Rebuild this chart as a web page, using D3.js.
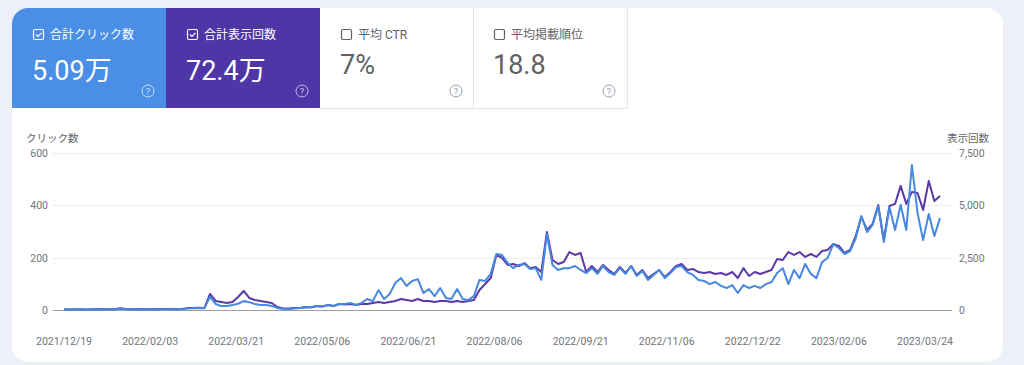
<!DOCTYPE html>
<html lang="ja">
  <head>
    <meta charset="UTF-8" />
    <title>Search Console</title>
    <script src="https://cdn.jsdelivr.net/npm/d3@7"></script>
    <style>
      body { margin: 0; background: #eef0f9; }
      text { font-family: Roboto, "Noto Sans CJK JP", sans-serif; }
    </style>
  </head>
  <body>
    <svg id="svg" width="1024" height="365"></svg>
    <script>
      // 3日ごとの値（2021/12/19 から）
      const startDate = "2021-12-19";
      const stepDays = 3;
      const clicks = [
        2, 1, 2, 2, 1, 2, 3, 2, 2, 3,
        5, 3, 2, 3, 2, 2, 3, 2, 3, 3,
        2, 3, 6, 7, 8, 7, 50, 23, 15, 15,
        19, 24, 34, 30, 23, 19, 19, 15, 8, 4,
        4, 6, 8, 10, 11, 15, 13, 19, 15, 23,
        23, 27, 19, 27, 42, 34, 76, 42, 61, 103,
        122, 92, 111, 118, 65, 80, 53, 84, 46, 42,
        80, 42, 38, 53, 115, 111, 138, 214, 210, 180,
        160, 172, 176, 157, 160, 115, 290, 172, 153, 160,
        160, 168, 153, 141, 160, 138, 168, 145, 134, 160,
        138, 168, 130, 149, 115, 134, 153, 122, 141, 164,
        168, 145, 134, 115, 111, 99, 107, 92, 84, 95,
        65, 95, 84, 92, 84, 99, 107, 141, 160, 99,
        153, 122, 176, 138, 122, 183, 199, 252, 237, 214,
        225, 275, 359, 298, 325, 397, 260, 393, 306, 401,
        306, 554, 371, 267, 367, 283, 351
      ];
      const impressions = [
        30, 25, 35, 30, 25, 40, 45, 35, 30, 40,
        90, 50, 40, 45, 40, 35, 45, 40, 50, 45,
        40, 50, 90, 100, 110, 95, 765, 430, 380, 335,
        380, 620, 910, 575, 480, 430, 380, 335, 145, 70,
        70, 95, 95, 145, 120, 190, 170, 240, 190, 285,
        265, 285, 240, 285, 285, 335, 380, 335, 380, 430,
        525, 480, 430, 525, 430, 430, 380, 430, 430, 380,
        430, 380, 430, 480, 955, 1240, 1530, 2630, 2485, 2150,
        2200, 2100, 2245, 2000, 2055, 1815, 3730, 2390, 2200, 2295,
        2770, 2630, 2725, 1815, 2100, 1815, 2150, 1910, 1720, 2055,
        1770, 2100, 1675, 1910, 1530, 1720, 1910, 1575, 1815, 2100,
        2200, 1910, 1960, 1815, 1770, 1815, 1720, 1770, 1675, 1815,
        1530, 2000, 1625, 1815, 1720, 1815, 1910, 2440, 2390, 2770,
        2630, 2770, 2535, 2675, 2535, 2820, 2870, 3155, 3060, 2725,
        2870, 3540, 4445, 3825, 4110, 5020, 3345, 4970, 5070, 5930,
        5070, 5640, 5590, 4780, 6165, 5210, 5450
      ];
      const xTickLabels = [
        "2021/12/19", "2022/02/03", "2022/03/21", "2022/05/06",
        "2022/06/21", "2022/08/06", "2022/09/21", "2022/11/06",
        "2022/12/22", "2023/02/06", "2023/03/24"
      ];
      const leftTicks = [0, 200, 400, 600];
      const rightTicks = [0, 2500, 5000, 7500];

      const cardTitles = ["合計クリック数", "合計表示回数", "平均 CTR", "平均掲載順位"];
      const cardValues = ["5.09万", "72.4万", "7%", "18.8"];
      const cardChecked = [true, true, false, false];

      const parse = d3.timeParse("%Y-%m-%d");
      const parseTick = d3.timeParse("%Y/%m/%d");
      const fmtTick = d3.timeFormat("%Y/%m/%d");
      const t0 = parse(startDate);
      const dates = clicks.map((_, i) => d3.timeDay.offset(t0, i * stepDays));

      const svg = d3.select("#svg");

      // 背景カード
      svg.append("rect")
        .attr("x", 12).attr("y", 8)
        .attr("width", 991).attr("height", 354)
        .attr("rx", 16)
        .attr("fill", "#fff");

      // 上のタイル
      const tileX = [12, 166, 320, 473];
      const tileW = 154;
      const tileFill = ["#4a8ee6", "#4f36a7", "#fff", "#fff"];
      const tiles = svg.append("g");

      tiles.append("path")
        .attr("d", `M 12 108 L 12 24 A 16 16 0 0 1 28 8 L 166 8 L 166 108 Z`)
        .attr("fill", tileFill[0]);
      tiles.append("rect")
        .attr("x", tileX[1]).attr("y", 8)
        .attr("width", tileW).attr("height", 100)
        .attr("fill", tileFill[1]);
      tiles.append("path")
        .attr("d", "M 320 108.5 L 627.5 108.5 L 627.5 8 M 473.5 8 L 473.5 108")
        .attr("stroke", "#e3e4e8")
        .attr("fill", "none");

      cardTitles.forEach((title, i) => {
        const x0 = tileX[i] + 21;
        const on = cardChecked[i];
        const fg = on ? "#fff" : "#5f6368";
        const g = tiles.append("g");
        g.append("rect")
          .attr("x", x0 + 0.5).attr("y", 29.5)
          .attr("width", 10).attr("height", 10)
          .attr("rx", 1.5)
          .attr("fill", "none")
          .attr("stroke", fg)
          .attr("stroke-width", 1.2);
        if (on) {
          g.append("path")
            .attr("d", `M ${x0 + 3} ${34.5} L ${x0 + 5} ${36.5} L ${x0 + 8.5} ${32.8}`)
            .attr("fill", "none")
            .attr("stroke", fg)
            .attr("stroke-width", 1.2);
        }
        g.append("text")
          .attr("x", x0 + 17).attr("y", 39)
          .attr("font-size", 12)
          .attr("fill", fg)
          .text(title);
        g.append("text")
          .attr("x", x0 - 1).attr("y", on ? 80 : 74)
          .attr("font-size", 27)
          .attr("fill", on ? "#fff" : "#616161")
          .text(cardValues[i]);
        const hx = tileX[i] + 136;
        g.append("circle")
          .attr("cx", hx).attr("cy", 91)
          .attr("r", 6)
          .attr("fill", "none")
          .attr("stroke", on ? "rgba(255,255,255,0.65)" : "#9aa0a6")
          .attr("stroke-width", 1);
        g.append("text")
          .attr("x", hx).attr("y", 94.5)
          .attr("text-anchor", "middle")
          .attr("font-size", 9)
          .attr("fill", on ? "rgba(255,255,255,0.7)" : "#9aa0a6")
          .text("?");
      });

      // グラフ
      const x = d3.scaleTime()
        .domain([parse("2021-12-19"), parse("2023-03-24")])
        .range([64, 925]);
      const yL = d3.scaleLinear().domain([0, 600]).range([310, 153]);
      const yR = d3.scaleLinear().domain([0, 7500]).range([310, 153]);

      const grid = svg.append("g");
      grid.selectAll("line")
        .data(leftTicks)
        .enter()
        .append("line")
        .attr("x1", 53).attr("x2", 952)
        .attr("y1", d => Math.round(yL(d)) + 0.5)
        .attr("y2", d => Math.round(yL(d)) + 0.5)
        .attr("stroke", d => (d === 0 ? "#9e9e9e" : "#ececec"))
        .attr("stroke-width", 1);

      grid.selectAll(".lt")
        .data(leftTicks)
        .enter()
        .append("text")
        .attr("class", "lt")
        .attr("x", 48)
        .attr("y", d => yL(d) + 4)
        .attr("text-anchor", "end")
        .attr("font-size", 10.5)
        .attr("fill", "#70757a")
        .text(d => d);

      grid.selectAll(".rt")
        .data(rightTicks)
        .enter()
        .append("text")
        .attr("class", "rt")
        .attr("x", 959)
        .attr("y", d => yR(d) + 4)
        .attr("font-size", 10.5)
        .attr("fill", "#70757a")
        .text(d => d3.format(",")(d));

      svg.append("text")
        .attr("x", 26).attr("y", 142)
        .attr("font-size", 10.5)
        .attr("fill", "#5f6368")
        .text("クリック数");
      svg.append("text")
        .attr("x", 989).attr("y", 142)
        .attr("text-anchor", "end")
        .attr("font-size", 10.5)
        .attr("fill", "#5f6368")
        .text("表示回数");

      svg.append("g")
        .selectAll("text")
        .data(xTickLabels)
        .enter()
        .append("text")
        .attr("x", d => x(parseTick(d)))
        .attr("y", 345)
        .attr("text-anchor", "middle")
        .attr("font-size", 10.5)
        .attr("fill", "#70757a")
        .text(d => fmtTick(parseTick(d)));

      const lineImp = d3.line()
        .x((d, i) => x(dates[i]))
        .y(d => yR(d));
      const lineClk = d3.line()
        .x((d, i) => x(dates[i]))
        .y(d => yL(d));

      svg.append("path")
        .datum(impressions)
        .attr("d", lineImp)
        .attr("fill", "none")
        .attr("stroke", "#5a3aa6")
        .attr("stroke-width", 2)
        .attr("stroke-linejoin", "round");

      svg.append("path")
        .datum(clicks)
        .attr("d", lineClk)
        .attr("fill", "none")
        .attr("stroke", "#4688e0")
        .attr("stroke-width", 2)
        .attr("stroke-linejoin", "round");
    </script>
  </body>
</html>
